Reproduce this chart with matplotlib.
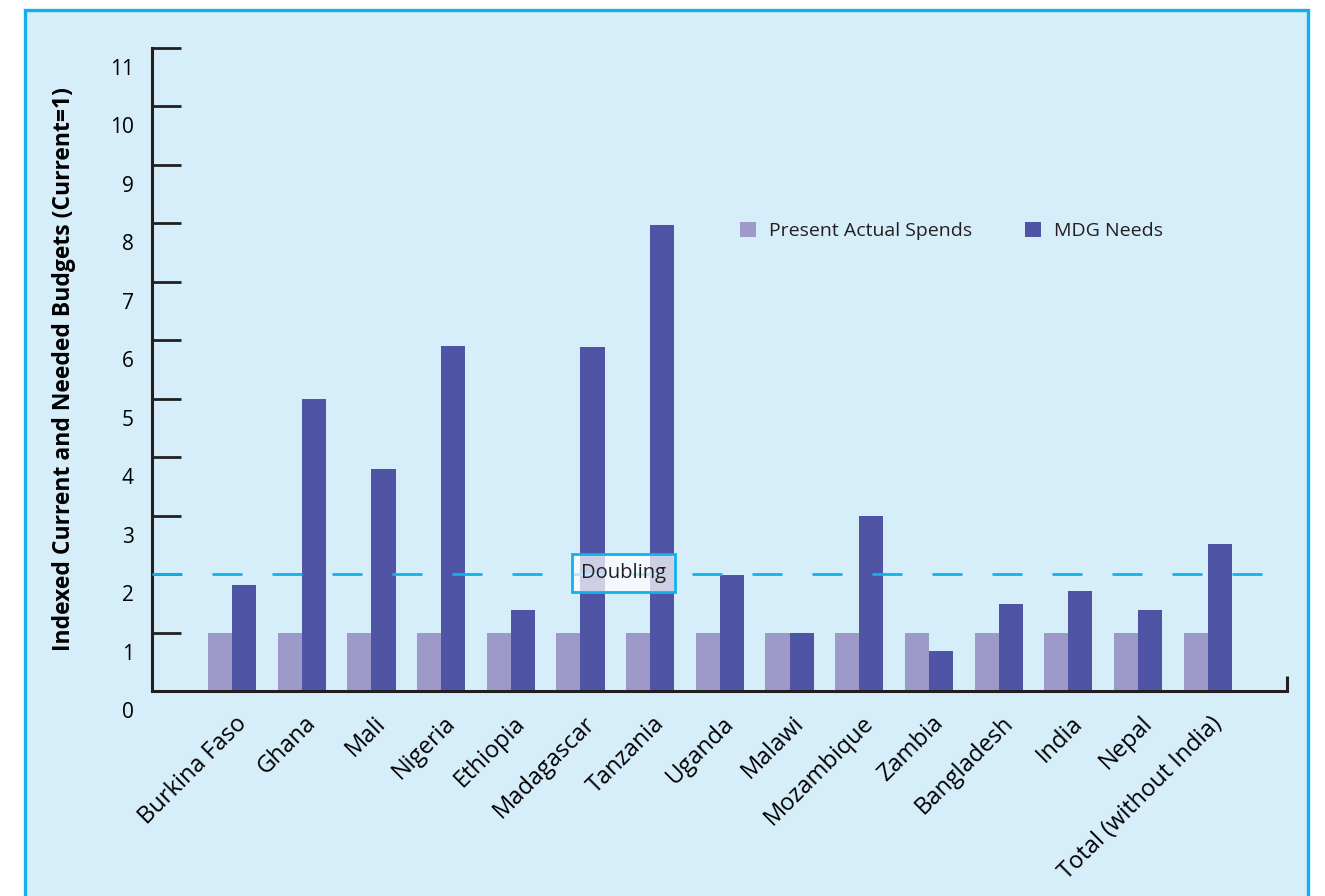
import matplotlib
matplotlib.use("Agg")
import matplotlib.pyplot as plt
import matplotlib.patches as mpatches
import matplotlib.transforms as mtransforms
import numpy as np

# ==========================================================
# DATA
# ==========================================================

countries = [
    "Burkina Faso", "Ghana", "Mali", "Nigeria", "Ethiopia",
    "Madagascar", "Tanzania", "Uganda", "Malawi", "Mozambique",
    "Zambia", "Bangladesh", "India", "Nepal", "Total (without India)"
]

present = [1, 1, 1, 1, 1, 1, 1, 1, 1, 1, 1, 1, 1, 1, 1]

mdg_needs = [1.81, 5.0, 3.8, 5.9, 1.39, 5.89, 7.97, 1.98, 1.0,
             2.99, 0.69, 1.49, 1.71, 1.39, 2.51]

doubling = 2

yticks = list(range(0, 12))

# ==========================================================
# STYLE
# ==========================================================

c_present = "#9d9aca"
c_mdg = "#5054a5"
c_bg = "#d6edfa"
c_cyan = "#11b1ec"
c_ink = "#231f20"

plt.rcParams.update({
    "font.family": ["Open Sans", "DejaVu Sans"],
    "font.size": 14,
    "text.color": c_ink,
})

fig = plt.figure(figsize=(13.25, 8.96), dpi=100)
fig.patch.set_facecolor("white")

# light blue panel with cyan border
panel = mpatches.Rectangle(
    (25 / 1325, -0.02), (1308 - 25) / 1325, 1 - 10 / 896 + 0.02,
    transform=fig.transFigure, facecolor=c_bg, edgecolor=c_cyan,
    linewidth=2.4, zorder=-10
)
fig.add_artist(panel)

ax = fig.add_axes([152 / 1325, 1 - 691 / 896,
                   (1287 - 152) / 1325, (691 - 48) / 896])
ax.set_facecolor("none")

x = np.arange(len(countries))
width = 0.345

ax.bar(x - width / 2, present, width, color=c_present,
       label="Present Actual Spends", zorder=2)
ax.bar(x + width / 2, mdg_needs, width, color=c_mdg,
       label="MDG Needs", zorder=2)

ax.axhline(doubling, color=c_cyan, linewidth=2,
           linestyle=(0, (10.8, 10.8)), zorder=3)

ax.text(5.62, doubling + 0.02, "Doubling", ha="center", va="center",
        fontsize=14.5, zorder=5,
        bbox=dict(boxstyle="square,pad=0.45", facecolor=(1, 1, 1, 0.72),
                  edgecolor=c_cyan, linewidth=2))

# ==========================================================
# AXES
# ==========================================================

ax.set_xlim(-1.15, 15.14)
ax.set_ylim(0, 11)

for side in ["top", "right"]:
    ax.spines[side].set_visible(False)
for side in ["left", "bottom"]:
    ax.spines[side].set_linewidth(2.2)
    ax.spines[side].set_color(c_ink)

# small end mark on the x axis
ax.plot([1, 1], [0, 0.024], transform=ax.transAxes, color=c_ink,
        linewidth=2.2, clip_on=False, solid_capstyle="butt")

ax.set_yticks(yticks)
ax.set_yticklabels([str(t) for t in yticks])
ax.tick_params(axis="y", direction="in", length=21, width=2,
               color=c_ink, pad=13, labelsize=15)
shift_down = mtransforms.ScaledTranslation(0, -19 / 100, fig.dpi_scale_trans)
for lab in ax.get_yticklabels():
    lab.set_transform(lab.get_transform() + shift_down)

ax.set_xticks(x)
ax.set_xticklabels(countries, rotation=45, ha="right", va="center",
                   rotation_mode="anchor", fontsize=17)
ax.tick_params(axis="x", length=0, pad=21)
shift_right = mtransforms.ScaledTranslation(11 / 100, 0, fig.dpi_scale_trans)
for lab in ax.get_xticklabels():
    lab.set_transform(lab.get_transform() + shift_right)

ax.set_ylabel("Indexed Current and Needed Budgets (Current=1)",
              fontsize=16.5, fontweight="bold")
ax.yaxis.set_label_coords(-0.067, 0.5)

ax.legend(loc="center left", bbox_to_anchor=(0.511, 0.7154), ncol=2,
          frameon=False, fontsize=14, handlelength=0.82, handleheight=0.82,
          handletextpad=0.67, columnspacing=2.75, borderaxespad=0)

fig.savefig("out.png", dpi=100)
